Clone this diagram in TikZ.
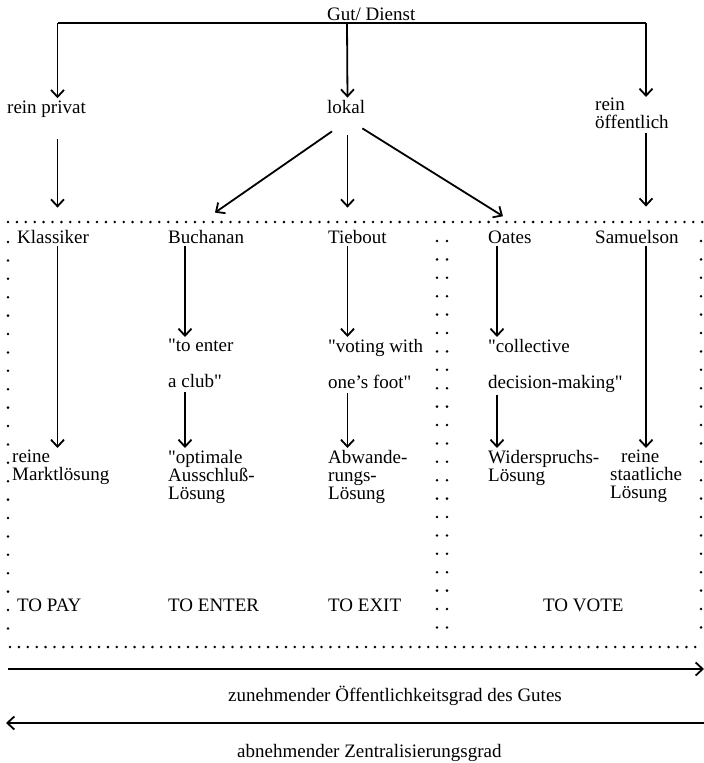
\documentclass[tikz,border=0pt]{standalone}
\usepackage{fontspec}
\setmainfont{Liberation Serif}[Ligatures=TeXOff]
\usetikzlibrary{arrows.meta}
\tikzstyle{lbl} = [inner sep=0pt, anchor=base west, font=\fontsize{19}{18}\selectfont]
\tikzstyle{blk} = [lbl, anchor=north west, align=left]
\tikzstyle{arrow} = [line width=1.8pt, -{Straight Barb[length=7pt,width=13pt]}, shorten <=3pt, shorten >=2pt]
\tikzstyle{rule} = [line width=2pt]
\tikzstyle{dotrow} = [line width=2.8pt, line cap=round, dash pattern=on 0pt off 8.9pt]
\tikzstyle{dotcol} = [line width=2.8pt, line cap=round, dash pattern=on 0pt off 18.4pt]

\begin{document}
\begin{tikzpicture}[x=1pt, y=-1pt]
\useasboundingbox (0,0) rectangle (704,763);
% columns
\coordinate (cPay) at (57.5,0);
\coordinate (cEnter) at (185,0);
\coordinate (cExit) at (347.5,0);
\coordinate (cVote) at (497,0);
\coordinate (cSam) at (646,0);
\coordinate (hub) at (347,23);

\node [lbl] (gut) at (327, 20) {Gut/ Dienst};
\node [lbl] (privat) at (7, 113) {rein privat};
\node [lbl] (lokal) at (327, 113) {lokal};
\node [blk] (oeff) at (595, 98) {rein\\öffentlich};

\draw [rule] (hub -| cPay) -- (hub -| cSam);
\draw [arrow, shorten <=0pt] (hub -| cPay) -- (privat.north -| cPay);
\draw [arrow, shorten <=0pt] (hub) -- (lokal.north -| cExit);
\draw [arrow, shorten <=0pt, shorten >=1pt] (hub -| cSam) -- (oeff.north -| cSam);

% dotted frame
\draw [dotrow] (8,222) -- (704,222);
\draw [dotrow] (10,647) -- (704,647);
\draw [dotcol] (8,242) -- (8,629);
\draw [dotcol] (437,241) -- (437,629);
\draw [dotcol] (447,241) -- (447,629);
\draw [dotcol] (701,241) -- (701,629);

\node [lbl] (klass) at (17, 243) {Klassiker};
\node [lbl] (buch) at (168, 243) {Buchanan};
\node [lbl] (tieb) at (328, 243) {Tiebout};
\node [lbl] (oates) at (488, 243) {Oates};
\node [lbl] (sam) at (595, 243) {Samuelson};

\draw [arrow, shorten <=22pt, shorten >=22pt] (privat.south -| cPay) -- (klass.north -| cPay);
\draw [arrow, shorten <=0pt, shorten >=0pt] ([xshift=5pt,yshift=-18pt]lokal.south west) -- ([xshift=47pt,yshift=17pt]buch.north west);
\draw [arrow, shorten <=22pt, shorten >=22pt] (lokal.south -| cExit) -- (tieb.north -| cExit);
\draw [arrow, shorten <=0pt, shorten >=0pt] ([xshift=-3pt,yshift=-15pt]lokal.south east) -- ([xshift=15pt,yshift=14pt]oates.north west);
\draw [arrow, shorten <=4pt, shorten >=23pt] (oeff.south -| cSam) -- (sam.north -| cSam);

\node [blk] (club) at (168, 339) {"to enter\\[18pt]a club"};
\node [blk] (foot) at (328, 339) {"voting with\\[18pt]one’s foot"};
\node [blk] (coll) at (488, 339) {"collective\\[18pt]decision-making"};

\node [blk] (markt) at (12, 450) {reine\\Marktlösung};
\node [blk] (ausschl) at (168, 450) {"optimale\\Ausschluß-\\Lösung};
\node [blk] (abw) at (328, 450) {Abwande-\\rungs-\\Lösung};
\node [blk] (wider) at (488, 450) {Widerspruchs-\\Lösung};
\node [blk] (staat) at (610, 450) {\hspace*{11pt}reine\\staatliche\\Lösung};

\draw [arrow] (klass.south -| cPay) -- (markt.north -| cPay);
\draw [arrow] (buch.south -| cEnter) -- (club.north -| cEnter);
\draw [arrow, shorten <=4pt] (club.south -| cEnter) -- (ausschl.north -| cEnter);
\draw [arrow] (tieb.south -| cExit) -- (foot.north -| cExit);
\draw [arrow, shorten <=4pt] (foot.south -| cExit) -- (abw.north -| cExit);
\draw [arrow] (oates.south -| cVote) -- (coll.north -| cVote);
\draw [arrow, shorten <=2pt] (coll.south -| cVote) -- (wider.north -| cVote);
\draw [arrow] (sam.south -| cSam) -- (staat.north -| cSam);

\node [lbl] (pay) at (17, 611) {TO PAY};
\node [lbl] (enter) at (168, 611) {TO ENTER};
\node [lbl] (exit) at (328, 611) {TO EXIT};
\node [lbl] (vote) at (543, 611) {TO VOTE};

% axes
\coordinate (zL) at (8,669);
\coordinate (zR) at (704,669);
\coordinate (aR) at (704,723);
\coordinate (aL) at (6,723);
\draw [arrow, shorten <=0pt, shorten >=0pt] (zL) -- (zR);
\node [lbl] (zun) at (228, 701) {zunehmender Öffentlichkeitsgrad des Gutes};
\draw [arrow, shorten <=0pt, shorten >=0pt] (aR) -- (aL);
\node [lbl] (abn) at (237, 757) {abnehmender Zentralisierungsgrad};
\end{tikzpicture}
\end{document}
